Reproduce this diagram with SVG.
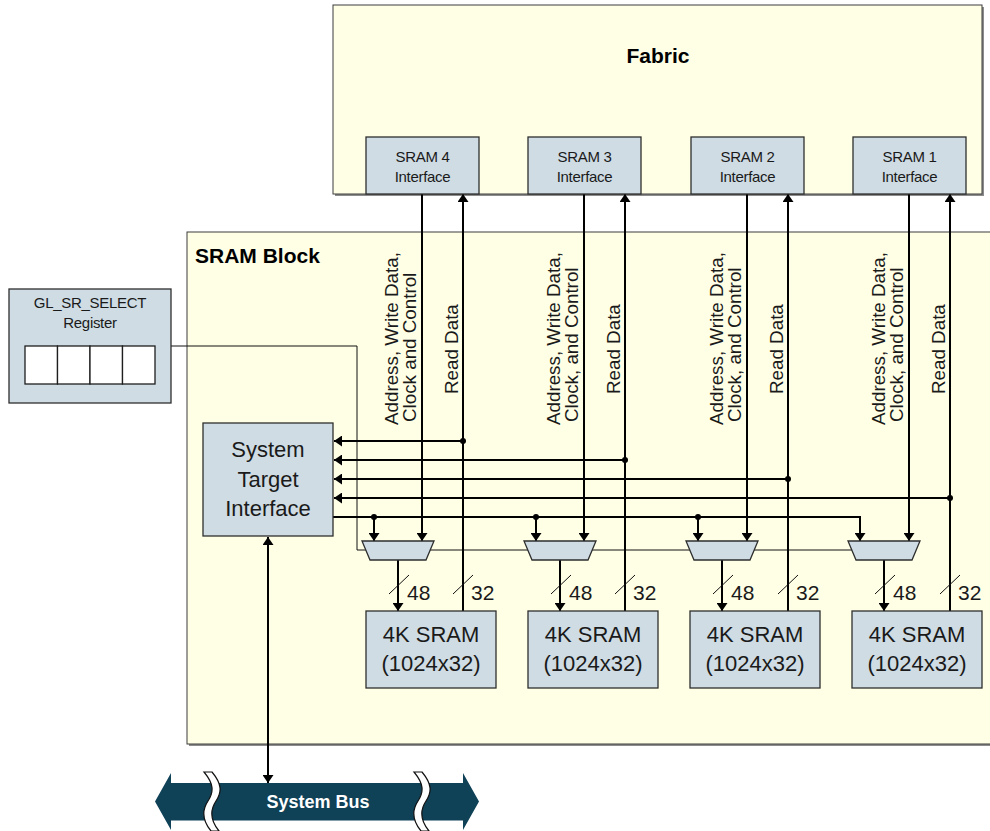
<svg xmlns="http://www.w3.org/2000/svg" width="990" height="831" viewBox="0 0 990 831">
  <defs>
    <style>
      .frame{fill:#ffffe6;stroke:#3c3c3c;stroke-width:1}
      .shadow{fill:#8c8c8c}
      .box{fill:#cfdce4;stroke:#2e2e2e;stroke-width:1.3}
      .cell{fill:#ffffff;stroke:#1e1e1e;stroke-width:1.3}
      .wire{fill:none;stroke:#000;stroke-width:2}
      .thin{fill:none;stroke:#111;stroke-width:1}
      .dot{fill:#000}
      .t{font-family:"Liberation Sans",Arial,Helvetica,sans-serif;fill:#1a1a1a}
      .title{font-size:21px;font-weight:bold;fill:#000}
      .small{font-size:15px;letter-spacing:-0.3px;text-anchor:middle}
      .big{font-size:22px;text-anchor:middle}
      .lbl{font-size:18.8px}
      .width{font-size:21px}
      .bus{fill:#0f4157}
      .brk{fill:#ffffff;stroke:#111;stroke-width:1.2}
      .busText{font-size:18px;font-weight:bold;fill:#ffffff;text-anchor:middle}
    </style>
    <marker id="ah" viewBox="0 0 8 11" refX="8" refY="5.5" markerWidth="8" markerHeight="11" markerUnits="userSpaceOnUse" orient="auto-start-reverse">
      <path d="M0,0 L8,5.5 L0,11 z" fill="#000"/>
    </marker>
  </defs>

  <!-- outer regions -->
  <g id="fabric">
    <rect class="shadow" x="335" y="7" width="649" height="189"/>
    <rect class="frame" x="333" y="5" width="649" height="189"/>
    <text class="t title" x="658" y="63" text-anchor="middle">Fabric</text>
  </g>
  <g id="sram-block">
    <rect class="shadow" x="189" y="234" width="810" height="512"/>
    <rect class="frame" x="187" y="232" width="812" height="512"/>
    <text class="t title" x="195" y="263">SRAM Block</text>
  </g>

  <!-- connectors -->
  <g id="connectors">
    <!-- select register to mux selects -->
    <path class="thin" d="M171,346 H357 V550 H852"/>

    <!-- address/write data/clock/control from fabric interfaces to muxes -->
    <path class="wire" d="M422,194 V541" marker-end="url(#ah)"/>
    <path class="wire" d="M584,194 V541" marker-end="url(#ah)"/>
    <path class="wire" d="M747,194 V541" marker-end="url(#ah)"/>
    <path class="wire" d="M909,194 V541" marker-end="url(#ah)"/>

    <!-- read data from SRAMs to fabric interfaces -->
    <path class="wire" d="M463,611 V194" marker-end="url(#ah)"/>
    <path class="wire" d="M625,611 V194" marker-end="url(#ah)"/>
    <path class="wire" d="M788,611 V194" marker-end="url(#ah)"/>
    <path class="wire" d="M950,611 V194" marker-end="url(#ah)"/>

    <!-- read data taps to system target interface -->
    <path class="wire" d="M463,441 H334" marker-end="url(#ah)"/>
    <path class="wire" d="M625,460 H334" marker-end="url(#ah)"/>
    <path class="wire" d="M788,479 H334" marker-end="url(#ah)"/>
    <path class="wire" d="M950,498 H334" marker-end="url(#ah)"/>
    <circle class="dot" cx="463" cy="441" r="3"/>
    <circle class="dot" cx="625" cy="460" r="3"/>
    <circle class="dot" cx="788" cy="479" r="3"/>
    <circle class="dot" cx="950" cy="498" r="3"/>

    <!-- system target interface to mux inputs -->
    <path class="wire" d="M333,517 H860 V541" marker-end="url(#ah)"/>
    <path class="wire" d="M374,517 V541" marker-end="url(#ah)"/>
    <path class="wire" d="M536,517 V541" marker-end="url(#ah)"/>
    <path class="wire" d="M698,517 V541" marker-end="url(#ah)"/>
    <circle class="dot" cx="374" cy="517" r="3"/>
    <circle class="dot" cx="536" cy="517" r="3"/>
    <circle class="dot" cx="698" cy="517" r="3"/>

    <!-- mux outputs to SRAMs -->
    <path class="wire" d="M398,560 V611" marker-end="url(#ah)"/>
    <path class="wire" d="M560,560 V611" marker-end="url(#ah)"/>
    <path class="wire" d="M722,560 V611" marker-end="url(#ah)"/>
    <path class="wire" d="M884,560 V611" marker-end="url(#ah)"/>

    <!-- bus width slashes -->
    <path class="thin" d="M389,594 L409,575 M453,594 L473,575 M551,594 L571,575 M615,594 L635,575 M713,594 L733,575 M778,594 L798,575 M875,594 L895,575 M940,594 L960,575" stroke-width="1.3"/>
    <text class="t width" x="407" y="600">48</text>
    <text class="t width" x="471" y="600">32</text>
    <text class="t width" x="569" y="600">48</text>
    <text class="t width" x="633" y="600">32</text>
    <text class="t width" x="731" y="600">48</text>
    <text class="t width" x="796" y="600">32</text>
    <text class="t width" x="893" y="600">48</text>
    <text class="t width" x="958" y="600">32</text>

    <!-- system bus connection -->
    <path class="wire" d="M268,537 V783" marker-start="url(#ah)" marker-end="url(#ah)"/>

    <!-- signal labels -->
    <text class="t lbl" transform="translate(398,425) rotate(-90)">Address, Write Data,</text>
    <text class="t lbl" transform="translate(416,422) rotate(-90)">Clock and Control</text>
    <text class="t lbl" transform="translate(457.5,394) rotate(-90)">Read Data</text>

    <text class="t lbl" transform="translate(560,425) rotate(-90)">Address, Write Data,</text>
    <text class="t lbl" transform="translate(578,422) rotate(-90)">Clock, and Control</text>
    <text class="t lbl" transform="translate(619.5,394) rotate(-90)">Read Data</text>

    <text class="t lbl" transform="translate(723,425) rotate(-90)">Address, Write Data,</text>
    <text class="t lbl" transform="translate(741,422) rotate(-90)">Clock, and Control</text>
    <text class="t lbl" transform="translate(782.5,394) rotate(-90)">Read Data</text>

    <text class="t lbl" transform="translate(885,425) rotate(-90)">Address, Write Data,</text>
    <text class="t lbl" transform="translate(903,422) rotate(-90)">Clock, and Control</text>
    <text class="t lbl" transform="translate(944.5,394) rotate(-90)">Read Data</text>
  </g>

  <!-- fabric-side SRAM interfaces -->
  <g id="sram4-if">
    <rect class="box" x="366" y="137" width="113" height="57"/>
    <text class="t small" x="422.5" y="161.5">SRAM 4</text>
    <text class="t small" x="422.5" y="181.5">Interface</text>
  </g>
  <g id="sram3-if">
    <rect class="box" x="528" y="137" width="113" height="57"/>
    <text class="t small" x="584.5" y="161.5">SRAM 3</text>
    <text class="t small" x="584.5" y="181.5">Interface</text>
  </g>
  <g id="sram2-if">
    <rect class="box" x="691" y="137" width="113" height="57"/>
    <text class="t small" x="747.5" y="161.5">SRAM 2</text>
    <text class="t small" x="747.5" y="181.5">Interface</text>
  </g>
  <g id="sram1-if">
    <rect class="box" x="853" y="137" width="113" height="57"/>
    <text class="t small" x="909.5" y="161.5">SRAM 1</text>
    <text class="t small" x="909.5" y="181.5">Interface</text>
  </g>

  <!-- select register -->
  <g id="gl-sr-select">
    <rect class="box" x="9" y="289" width="162" height="114"/>
    <text class="t small" x="90" y="308">GL_SR_SELECT</text>
    <text class="t small" x="90" y="328">Register</text>
    <rect class="cell" x="25" y="346" width="32.5" height="38"/>
    <rect class="cell" x="57.5" y="346" width="32.5" height="38"/>
    <rect class="cell" x="90" y="346" width="32.5" height="38"/>
    <rect class="cell" x="122.5" y="346" width="32.5" height="38"/>
  </g>

  <!-- system target interface -->
  <g id="system-target-interface">
    <rect class="box" x="203" y="423" width="130" height="113"/>
    <text class="t big" x="268" y="457">System</text>
    <text class="t big" x="268" y="487">Target</text>
    <text class="t big" x="268" y="516">Interface</text>
  </g>

  <!-- input multiplexers -->
  <g id="mux4"><polygon class="box" points="362,541 434,541 426,560 370,560"/></g>
  <g id="mux3"><polygon class="box" points="524,541 596,541 588,560 532,560"/></g>
  <g id="mux2"><polygon class="box" points="686,541 758,541 750,560 694,560"/></g>
  <g id="mux1"><polygon class="box" points="848,541 920,541 912,560 856,560"/></g>

  <!-- SRAM arrays -->
  <g id="sram4">
    <rect class="box" x="366" y="611" width="130" height="77"/>
    <text class="t big" x="431" y="642">4K SRAM</text>
    <text class="t big" x="431" y="671">(1024x32)</text>
  </g>
  <g id="sram3">
    <rect class="box" x="528" y="611" width="130" height="77"/>
    <text class="t big" x="593" y="642">4K SRAM</text>
    <text class="t big" x="593" y="671">(1024x32)</text>
  </g>
  <g id="sram2">
    <rect class="box" x="690" y="611" width="130" height="77"/>
    <text class="t big" x="755" y="642">4K SRAM</text>
    <text class="t big" x="755" y="671">(1024x32)</text>
  </g>
  <g id="sram1">
    <rect class="box" x="852" y="611" width="130" height="77"/>
    <text class="t big" x="917" y="642">4K SRAM</text>
    <text class="t big" x="917" y="671">(1024x32)</text>
  </g>

  <!-- system bus -->
  <g id="system-bus">
    <polygon class="bus" points="155,801.5 171,773 171,783 463,783 463,773 479,801.5 463,830 463,820.5 171,820.5 171,830"/>
    <path class="brk" d="M204,772 C214,784 214,792 208,801 C202,810 202,820 211,831 L219,831 C210,820 210,810 216,801 C222,792 222,784 212,772 Z"/>
    <path class="brk" d="M414,772 C424,784 424,792 418,801 C412,810 412,820 421,831 L429,831 C420,820 420,810 426,801 C432,792 432,784 422,772 Z"/>
    <text class="t busText" x="318" y="808">System Bus</text>
  </g>
</svg>
